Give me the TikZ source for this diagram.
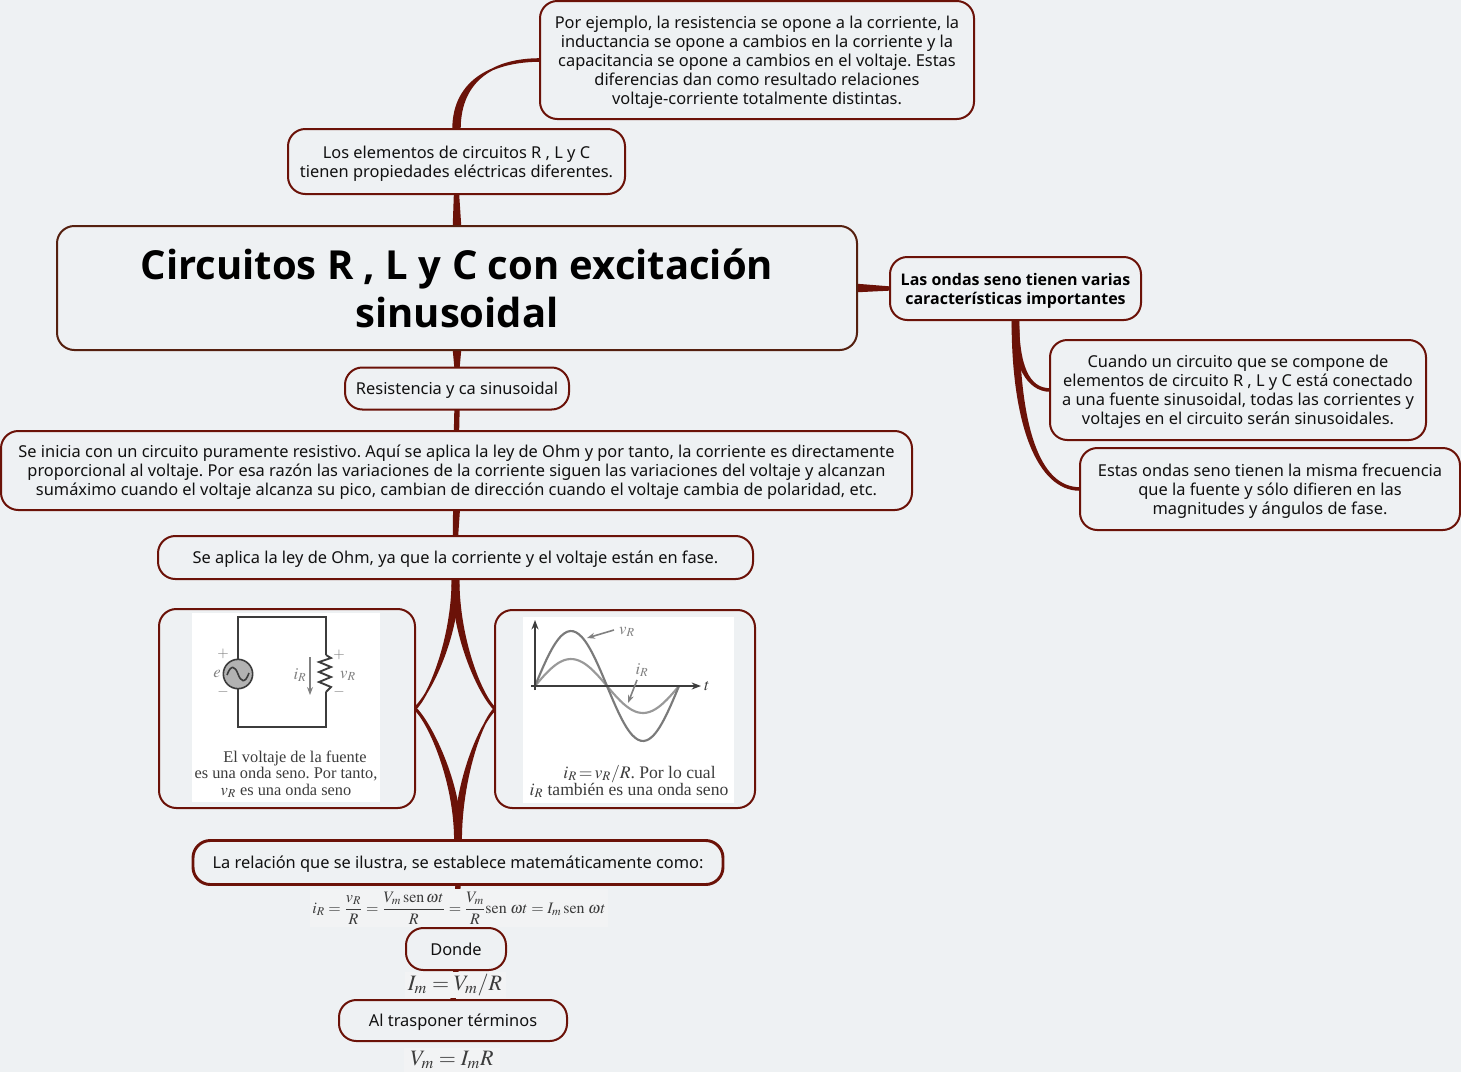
\documentclass[tikz,border=0pt]{standalone}
\usepackage{mathptmx}
\usepackage{fontspec}
\setmainfont{Noto Sans}
\newfontfamily\capfont{Liberation Serif}
\newfontfamily\headfont{Open Sans}
\usetikzlibrary{backgrounds,arrows.meta}
\definecolor{paper}{HTML}{EEF1F3}
\definecolor{linkred}{HTML}{6B1208}
\definecolor{titleline}{HTML}{55200F}
\definecolor{inktext}{HTML}{111111}
\definecolor{eqpaper}{HTML}{F2F3F4}
\definecolor{imgline}{HTML}{3C3C3C}
\definecolor{imgtext}{HTML}{808080}
\tikzset{
	topic/.style={draw=linkred, line width=1.5pt, rounded corners=13pt, fill=paper, text=inktext,
		align=center, inner sep=0pt, outer sep=0pt, text depth=0pt, font=\fontsize{12.3}{14.25}\selectfont},
	boxsize/.style 2 args={minimum width=#1*0.75pt, minimum height=#2*0.75pt},
	formula/.style={fill=eqpaper, inner sep=0pt, outer sep=0pt, text=imgline},
	photo/.style={fill=white, inner sep=0pt, outer sep=0pt},
	caption/.style={text=imgline, align=center, inner sep=0pt, font=\capfont\fontsize{12.25}{12.4}\selectfont},
	mark label/.style={text=imgtext, inner sep=0pt, font=\fontsize{12.5}{14}\selectfont},
	sign label/.style={text=imgtext, inner sep=0pt, font=\fontsize{11}{11}\selectfont},
	linkfill/.style={fill=linkred, draw=none}
}
% tapered links: start, end, start control, end control, half width
\newcommand{\branch}[5]{\fill[linkfill, draw=linkred, line width=1.5pt] ([xshift=-#5pt]#1) .. controls +(#3) and +(#4) .. ([yshift=-0.6pt]#2)
	-- ([yshift=0.6pt]#2) .. controls +(#4) and +(#3) .. ([xshift=#5pt]#1) -- cycle;}
\newcommand{\stem}[4]{\fill[linkfill] ([xshift=-#3pt]#1) -- ([xshift=-#4pt]#2) -- ([xshift=#4pt]#2) -- ([xshift=#3pt]#1) -- cycle;}
\begin{document}
\frenchspacing
\begin{tikzpicture}[x=0.75pt, y=-0.75pt]
	\useasboundingbox (0,0) rectangle (1461,1072);
	% main column
	\node[topic, boxsize={434}{118}] (ejemplo) at (757,60) {Por ejemplo, la resistencia se opone a la corriente, la\\inductancia se opone a cambios en la corriente y la\\capacitancia se opone a cambios en el voltaje. Estas\\diferencias dan como resultado relaciones\\voltaje-corriente totalmente distintas.};
	\node[topic, boxsize={337}{65}] (elementos) at (456.5,161.5) {Los elementos de circuitos R , L y C\\tienen propiedades eléctricas diferentes.};
	\node[topic, draw=titleline, boxsize={800}{124}, text=black, font=\headfont\bfseries\fontsize{30}{36}\selectfont] (title) at (457,288) {Circuitos R , L y C con excitación\\sinusoidal};
	\node[topic, boxsize={224}{42}] (resistencia) at (457,388.5) {Resistencia y ca sinusoidal};
	\node[topic, boxsize={911}{79}] (inicio) at (456.5,470.5) {Se inicia con un circuito puramente resistivo. Aquí se aplica la ley de Ohm y por tanto, la corriente es directamente\\proporcional al voltaje. Por esa razón las variaciones de la corriente siguen las variaciones del voltaje y alcanzan\\sumáximo cuando el voltaje alcanza su pico, cambian de dirección cuando el voltaje cambia de polaridad, etc.};
	\node[topic, boxsize={595}{43}] (ohm) at (455.5,557.5) {Se aplica la ley de Ohm, ya que la corriente y el voltaje están en fase.};
	\node[topic, boxsize={256}{199}] (imgcircuit) at (287,708.5) {};
	\node[topic, boxsize={260}{198}] (imgwave) at (625,709) {};
	\node[topic, line width=2.2pt, boxsize={530}{44}] (relacion) at (458,862.5) {La relación que se ilustra, se establece matemáticamente como:};
	\node[formula, minimum width=298*0.75pt, minimum height=38*0.75pt] (eqratio) at (459,908) {\fontsize{12}{13}\selectfont$\displaystyle i_R=\frac{v_R}{R}=\frac{V_m\,\mathrm{sen}\,\omega t}{R}=\frac{V_m}{R}\mathrm{sen}\;\omega t=I_m\,\mathrm{sen}\;\omega t$};
	\node[topic, boxsize={100}{42}] (donde) at (456,949) {Donde};
	\node[formula, minimum width=101*0.75pt, minimum height=26*0.75pt] (eqim) at (455,985) {\fontsize{16.5}{18}\selectfont$I_m=V_m/R$};
	\node[topic, boxsize={228}{41}] (trasponer) at (453,1020.5) {Al trasponer términos};
	\node[formula, minimum width=96*0.75pt, minimum height=24*0.75pt] (eqvm) at (452,1060) {\fontsize{16.5}{18}\selectfont$V_m=I_mR$};
	% right side
	\node[topic, boxsize={251}{63}, text=black, font=\headfont\bfseries\fontsize{12}{14.25}\selectfont] (ondas) at (1015.5,288.5) {Las ondas seno tienen varias\\características importantes};
	\node[topic, boxsize={376}{100}] (cuando) at (1238,390) {Cuando un circuito que se compone de\\elementos de circuito R , L y C está conectado\\a una fuente sinusoidal, todas las corrientes y\\voltajes en el circuito serán sinusoidales.};
	\node[topic, boxsize={380}{82}] (estas) at (1270,489) {Estas ondas seno tienen la misma frecuencia\\que la fuente y sólo difieren en las\\magnitudes y ángulos de fase.};
	% circuit picture
	\node[photo, minimum width=188*0.75pt, minimum height=189*0.75pt] (photocircuit) at (286,707.5) {};
	\draw[imgline, line width=1.4pt] (238,617) rectangle (326,727);
	\fill[white] (320,655) rectangle (332,692);
	\draw[imgline, line width=1.4pt] (326,655) -- (331,658) -- (319,662) -- (331,667) -- (319,672) -- (331,677) -- (319,682) -- (331,687) -- (326,692);
	\draw[imgline, line width=1.2pt, fill=black!30] (238,674) circle (11pt);
	\draw[imgline, line width=1.2pt] (227,675) .. controls (231,664) and (235,666) .. (238,674) .. controls (241,682) and (245,684) .. (249,673);
	\draw[imgtext, line width=0.8pt, -{Stealth[length=6pt]}] (310,657) -- (310,695);
	\node[sign label] (plusa) at (223,654) {$+$};
	\node[sign label] (minusa) at (223,692) {$-$};
	\node[mark label] (elabel) at (217,674) {$e$};
	\node[mark label] (irlabel) at (300,675) {$i_R$};
	\node[sign label] (plusb) at (339,655) {$+$};
	\node[mark label] (vrlabel) at (348,676) {$v_R$};
	\node[sign label] (minusb) at (339,692) {$-$};
	\node[caption] (capcircuit) at (286,774) {\hspace*{1.1em}El voltaje de la fuente\\es una onda seno. Por tanto,\\$v_R$ es una onda seno};
	% wave picture
	\node[photo, minimum width=211*0.75pt, minimum height=186*0.75pt] (photowave) at (628.5,710) {};
	\draw[black!40, line width=1.6pt] plot[smooth, domain=0:360, samples=50] ({535+\x*0.4},{686-27*sin(\x)});
	\draw[black!52, line width=1.6pt] plot[smooth, domain=0:360, samples=50] ({535+\x*0.4},{686-55*sin(\x)});
	\draw[imgline, line width=1.8pt, -{Stealth[length=7pt]}] (535,690) -- (535,620);
	\draw[imgline, line width=1pt, -{Stealth[length=7pt]}] (531,686) -- (701,686);
	\node[mark label, text=imgline] (tlabel) at (707,686) {$t$};
	\node[mark label] (vrwave) at (627,632) {$v_R$};
	\node[mark label] (irwave) at (642,670) {$i_R$};
	\draw[imgtext, line width=1.2pt, -{Stealth[length=6pt]}] (614,630) -- (587,638);
	\draw[imgtext, line width=1.2pt, -{Stealth[length=6pt]}] (637,680) -- (628,703);
	\node[caption, font=\capfont\fontsize{13.2}{12.6}\selectfont] (capwave) at (629,781.5) {\hspace*{1.2em}$i_R\!=\!v_R/R$. Por lo cual\\$i_R$ también es una onda seno};
	% links
	\begin{scope}[on background layer]
		\fill[paper] (0,0) rectangle (1461,1072);
		\branch{elementos.north}{ejemplo.west}{0,-50}{-45,0}{2.4}
		\stem{title.north}{elementos.south}{3.2}{2}
		\stem{title.south}{resistencia.north}{3.2}{2}
		\stem{resistencia.south}{inicio.north}{2}{2}
		\stem{inicio.south}{ohm.north}{2.6}{2}
		\fill[linkfill] ([yshift=-3.2pt]title.east) -- ([yshift=-1.6pt]ondas.west) -- ([yshift=1.6pt]ondas.west) -- ([yshift=3.2pt]title.east) -- cycle;
		\branch{ondas.south}{cuando.west}{0,45}{-22,0}{2}
		\branch{ondas.south}{estas.west}{0,105}{-42,0}{2.2}
		\branch{ohm.south}{imgcircuit.east}{0,60}{14,-13}{2.2}
		\branch{ohm.south}{imgwave.west}{0,60}{-14,-13}{2.2}
		\branch{relacion.north}{imgcircuit.east}{0,-60}{14,13}{2.2}
		\branch{relacion.north}{imgwave.west}{0,-60}{-14,13}{2.2}
		\stem{relacion.south}{donde.north}{2}{2}
		\stem{donde.south}{trasponer.north}{2}{2}
	\end{scope}
\end{tikzpicture}
\end{document}
